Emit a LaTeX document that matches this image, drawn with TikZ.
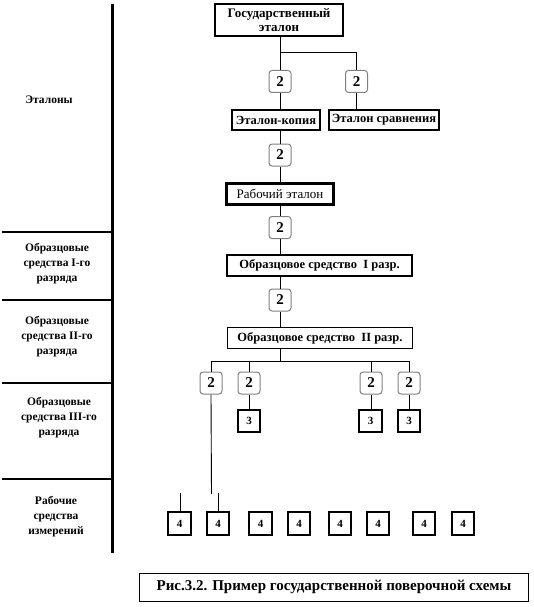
\documentclass[tikz,border=0pt]{standalone}
\usepackage{fontspec}
\setmainfont{Liberation Serif}
\usepackage{tikz}

\tikzset{
  etbox/.style={draw, line width=1.8pt, inner sep=1pt, align=center,
    font=\bfseries\fontsize{12.5}{13.5}\selectfont},
  numbox/.style={draw=gray, rounded corners=3pt, line width=1pt, inner sep=0pt,
    minimum width=22pt, minimum height=22pt, font=\bfseries\fontsize{15}{15}\selectfont},
  sqbox/.style={draw, line width=1.8pt, inner sep=0pt, minimum size=22.5pt,
    font=\bfseries\fontsize{11}{11}\selectfont},
  lvl/.style={align=center, font=\bfseries\fontsize{11.5}{15}\selectfont},
  conn/.style={line width=0.9pt}
}

\begin{document}
\begin{tikzpicture}[x=1pt,y=-1pt]
    \useasboundingbox (0,0) rectangle (533,607);
    \draw[line width=3pt] (112.5,4) -- (112.5,553);
    \draw[line width=1.5pt] (2,232) -- (112,232);
    \draw[line width=1.5pt] (2,300) -- (112,300);
    \draw[line width=1.5pt] (2,383) -- (112,383);
    \draw[line width=1.5pt] (2,479) -- (112,479);
    \node[lvl] (l1) at (49,100) {Эталоны};
    \node[lvl] (l2) at (57,264) {Образцовые\\средства I-го\\разряда};
    \node[lvl] (l3) at (57,337) {Образцовые\\средства II-го\\разряда};
    \node[lvl] (l4) at (59,418) {Образцовые\\средства III-го\\разряда};
    \node[lvl] (l5) at (56,517) {Рабочие\\средства\\измерений};

    \node[etbox, minimum width=128pt, minimum height=32pt, font=\bfseries\fontsize{13}{14}\selectfont] (gos) at (279,20) {Государственный\\эталон};
    \node[numbox] (d1) at (280,81.5) {2};
    \node[numbox] (d2) at (356.5,81.5) {2};
    \node[etbox, minimum width=88pt, minimum height=20pt] (kop) at (276,120) {Эталон-копия};
    \node[etbox, minimum width=110pt, minimum height=20pt] (srav) at (384,120) {Эталон сравнения};
    \node[numbox] (d3) at (280,155) {2};
    \node[draw, line width=3pt, minimum width=107pt, minimum height=21pt, inner sep=1pt,
      font=\fontsize{13}{13}\selectfont] (rab) at (280,194) {Рабочий эталон};
    \node[numbox] (d4) at (280,227.5) {2};
    \node[etbox, minimum width=185pt, minimum height=21pt] (obr1) at (319.5,265.5) {Образцовое средство \ I разр.};
    \node[numbox] (d5) at (280,300) {2};
    \node[etbox, minimum width=185pt, minimum height=21pt] (obr2) at (320,338) {Образцовое средство \ II разр.};
    \node[numbox] (s1) at (211,383) {2};
    \node[numbox] (s2) at (249,383) {2};
    \node[numbox] (s3) at (371,383) {2};
    \node[numbox] (s4) at (409,383) {2};
    \node[sqbox] (t1) at (249,421) {3};
    \node[sqbox] (t2) at (370.5,421) {3};
    \node[sqbox] (t3) at (409,421) {3};
    \node[sqbox] (w1) at (179.5,523.5) {4};
    \node[sqbox] (w2) at (218,523.5) {4};
    \node[sqbox] (w3) at (260.5,523.5) {4};
    \node[sqbox] (w4) at (299,523.5) {4};
    \node[sqbox] (w5) at (340,523.5) {4};
    \node[sqbox] (w6) at (378,523.5) {4};
    \node[sqbox] (w7) at (424,523.5) {4};
    \node[sqbox] (w8) at (463,523.5) {4};
    \coordinate (br1) at (280,52);
    \coordinate (br2) at (280,361);
    \coordinate (e1) at (211.5,494);
    \coordinate (e2) at (180.5,493);
    \coordinate (e3) at (218,493);

    \draw[conn] (gos.south -| d1.north) -- (d1.north);
    \draw[conn] (br1) -| (d2.north);
    \draw[conn] (d1.south) -- (d1.south |- kop.north);
    \draw[conn] (d2.south) -- (d2.south |- srav.north);
    \draw[conn] (d3.north |- kop.south) -- (d3.north);
    \draw[conn] (d3.south) -- (rab.north);
    \draw[conn] (rab.south) -- (d4.north);
    \draw[conn] (d4.south) -- (d4.south |- obr1.north);
    \draw[conn] (d5.north |- obr1.south) -- (d5.north);
    \draw[conn] (d5.south) -- (d5.south |- obr2.north);
    \draw[conn] (br2 |- obr2.south) -- (br2);
    \draw[conn] (s1.north) -- (s1.north |- br2) -- (s4.north |- br2) -- (s4.north);
    \draw[conn] (s2.north) -- (s2.north |- br2);
    \draw[conn] (s3.north) -- (s3.north |- br2);
    \draw[conn] (s2.south) -- (t1.north);
    \draw[conn] (s3.south) -- (s3.south |- t2.north);
    \draw[conn] (s4.south) -- (t3.north);
    \draw[conn] (s1.south) -- (e1);
    \draw[conn] (e2 |- w1.north) -- (e2);
    \draw[conn] (w2.north) -- (e3);

    \node[draw, line width=1pt, minimum width=389pt, minimum height=28pt, inner sep=0pt,
      font=\bfseries\fontsize{15}{15}\selectfont] (cap) at (334,587) {Рис.3.2. Пример государственной поверочной схемы};
\end{tikzpicture}
\end{document}
